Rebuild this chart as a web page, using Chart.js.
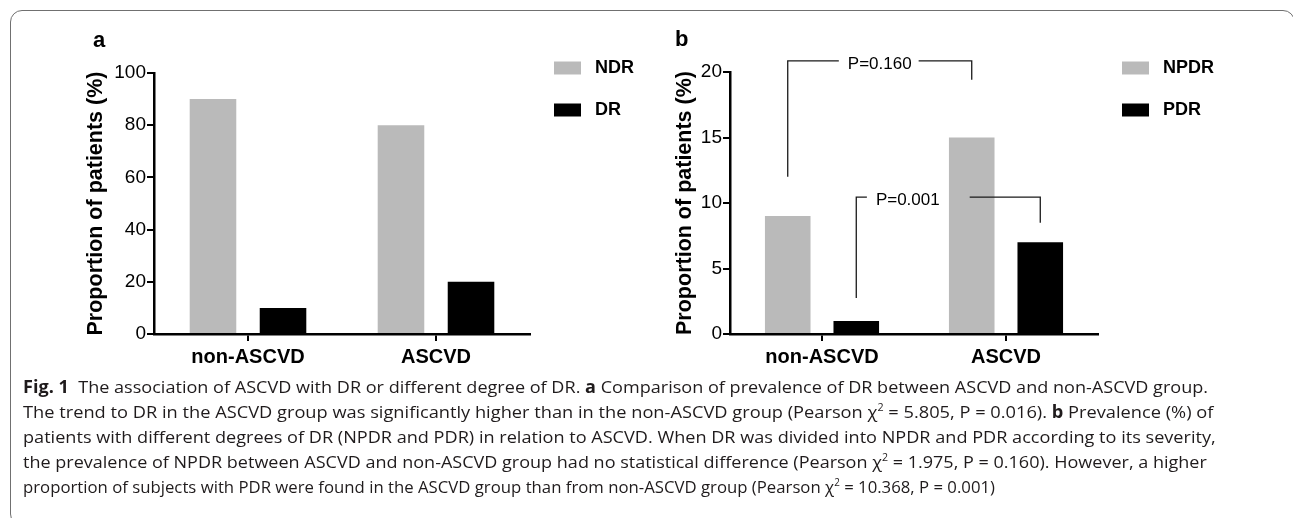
<!DOCTYPE html>
<html>
<head>
<meta charset="utf-8">
<script src="https://cdn.jsdelivr.net/npm/chart.js@4.4.0/dist/chart.umd.min.js"></script>
<style>
  html, body { margin: 0; padding: 0; background: #fff; overflow: hidden; }
  body { width: 1293px; height: 518px; position: relative; }
  .frame {
    position: absolute; left: 10px; top: 10px; width: 1283px; height: 514px;
    border: 1px solid #707070; border-radius: 12px;
  }
  canvas { position: absolute; top: 0; }
  #chartA { left: 0; }
  #chartB { left: 640px; }
  .caption {
    position: absolute; left: 23px; top: 374px;
    font-family: "Open Sans", "Noto Sans", sans-serif; font-size: 17px; line-height: 25px; color: #1f1b1c;
  }
  .caption .line { white-space: nowrap; width: max-content; transform-origin: 0 50%; }
  .caption sup { font-size: 10px; line-height: 0; }
</style>
</head>
<body>
<div class="frame"></div>
<canvas id="chartA" width="660" height="385"></canvas>
<canvas id="chartB" width="653" height="385"></canvas>
<div class="caption">
  <div class="line"><b>Fig. 1</b>&nbsp; The association of ASCVD with DR or different degree of DR. <b>a</b> Comparison of prevalence of DR between ASCVD and non-ASCVD group.</div>
  <div class="line">The trend to DR in the ASCVD group was significantly higher than in the non-ASCVD group (Pearson χ<sup>2</sup> = 5.805, P = 0.016). <b>b</b> Prevalence (%) of</div>
  <div class="line">patients with different degrees of DR (NPDR and PDR) in relation to ASCVD. When DR was divided into NPDR and PDR according to its severity,</div>
  <div class="line">the prevalence of NPDR between ASCVD and non-ASCVD group had no statistical difference (Pearson χ<sup>2</sup> = 1.975, P = 0.160). However, a higher</div>
  <div class="line">proportion of subjects with PDR were found in the ASCVD group than from non-ASCVD group (Pearson χ<sup>2</sup> = 10.368, P = 0.001)</div>
</div>
<script>
// Data
const categories = ['non-ASCVD', 'ASCVD'];
const ndrValues = [90, 80];
const drValues = [10, 20];
const npdrValues = [9, 15];
const pdrValues = [1, 7];
const yTicksA = [0, 20, 40, 60, 80, 100];
const yTicksB = [0, 5, 10, 15, 20];

// significance brackets on panel b
const pLabels = ['P=0.160', 'P=0.001'];
const pBracketSeries = [0, 1];
const pBracketTop = [20.85, 10.45];
const pBracketLeftEnd = [12, 2.75];
const pBracketRightEnd = [19.4, 8.5];

const bracketStyle = [
  { textAt: 0.5, gapLeft: 9, gapRight: 7 },
  { textAt: 0.28, gapLeft: 9, gapRight: 30 }
];
const captionRight = [1208, 1213, 1216, 1207, 995];

const GREY = '#bababa';
const BLACK = '#000000';
const FONT = '"Liberation Sans", Arial, sans-serif';
const LEGEND_PAD = 24;
const BOX_W = 27;
const LEGEND_FONT = 18;

Chart.defaults.font.family = FONT;
Chart.defaults.color = '#000';

// width Chart.js will give a right-hand legend, so the plot area ends where it should
function legendWidth(labels) {
  const ctx = document.createElement('canvas').getContext('2d');
  ctx.font = 'bold ' + LEGEND_FONT + 'px ' + FONT;
  const text = Math.max(...labels.map(t => ctx.measureText(' ' + t).width));
  return LEGEND_PAD + BOX_W + LEGEND_FONT / 2 + text + 10;
}

const bracketPlugin = {
  id: 'pBrackets',
  afterDraw(chart) {
    const { ctx, scales: { y } } = chart;
    ctx.save();
    ctx.strokeStyle = '#1a1a1a';
    ctx.lineWidth = 1.3;
    ctx.fillStyle = '#000';
    ctx.font = '17px ' + FONT;
    ctx.textAlign = 'center';
    ctx.textBaseline = 'middle';
    pLabels.forEach((label, i) => {
      const bars = chart.getDatasetMeta(pBracketSeries[i]).data;
      const x1 = bars[0].x;
      const x2 = bars[1].x;
      const yTop = y.getPixelForValue(pBracketTop[i]);
      const st = bracketStyle[i];
      const tx = x1 + (x2 - x1) * st.textAt;
      const half = ctx.measureText(label).width / 2;
      ctx.beginPath();
      ctx.moveTo(x1, y.getPixelForValue(pBracketLeftEnd[i]));
      ctx.lineTo(x1, yTop);
      ctx.lineTo(tx - half - st.gapLeft, yTop);
      ctx.moveTo(tx + half + st.gapRight, yTop);
      ctx.lineTo(x2, yTop);
      ctx.lineTo(x2, y.getPixelForValue(pBracketRightEnd[i]));
      ctx.stroke();
      ctx.fillText(label, tx, yTop + 3);
    });
    ctx.restore();
  }
};

function barChart(id, cfg) {
  const canvas = document.getElementById(id);
  const axisLine = { color: '#000', width: 2.5 };
  const tickMarks = { drawOnChartArea: false, tickLength: 7, lineWidth: 2, color: '#000' };
  const padding = {
    ...cfg.padding,
    right: canvas.width - cfg.plotRight - legendWidth(cfg.series.map(s => s.label))
  };
  return new Chart(canvas, {
    type: 'bar',
    data: {
      labels: categories,
      datasets: cfg.series.map(s => ({
        label: s.label,
        data: s.data,
        backgroundColor: s.color,
        borderWidth: 0,
        categoryPercentage: 0.745,
        barPercentage: 0.665
      }))
    },
    options: {
      responsive: false,
      animation: false,
      layout: { padding },
      plugins: {
        title: {
          display: true, text: cfg.panel, align: 'start', color: '#000',
          font: { size: 22, weight: 'bold' },
          padding: { top: 0, bottom: 18.6 }
        },
        legend: {
          position: 'right', align: 'start',
          title: { display: true, text: '', padding: 0, font: { size: cfg.legendTop, lineHeight: 1 } },
          labels: {
            boxWidth: BOX_W, boxHeight: 13, padding: LEGEND_PAD, color: '#000',
            font: { size: LEGEND_FONT, weight: 'bold' },
            generateLabels: chart => Chart.defaults.plugins.legend.labels.generateLabels(chart)
              .map(l => ({ ...l, text: ' ' + l.text }))
          }
        },
        tooltip: { enabled: false }
      },
      scales: {
        x: {
          grid: { ...tickMarks, offset: false },
          border: axisLine,
          ticks: { color: '#000', padding: 4, font: { size: 20, weight: 'bold' } },
          afterFit: s => { s.height = 40; }
        },
        y: {
          min: 0,
          max: cfg.ticks[cfg.ticks.length - 1],
          afterBuildTicks: s => { s.ticks = cfg.ticks.map(v => ({ value: v })); },
          afterFit: s => { s.width = cfg.axisWidth; },
          grid: tickMarks,
          border: axisLine,
          ticks: { color: '#000', padding: 1, font: { size: 19 } },
          title: {
            display: true, text: 'Proportion of patients (%)', color: '#000',
            font: { size: 21.5, weight: 'bold' },
            padding: { top: cfg.titleShift, bottom: 0 }
          }
        }
      }
    },
    plugins: cfg.plugins || []
  });
}

barChart('chartA', {
  panel: 'a',
  series: [
    { label: 'NDR', data: ndrValues, color: GREY },
    { label: 'DR', data: drValues, color: BLACK }
  ],
  ticks: yTicksA,
  padding: { top: 28, left: 93, bottom: 11 },
  plotRight: 530,
  axisWidth: 61,
  titleShift: -9.8,
  legendTop: 7
});

barChart('chartB', {
  panel: 'b',
  series: [
    { label: 'NPDR', data: npdrValues, color: GREY },
    { label: 'PDR', data: pdrValues, color: BLACK }
  ],
  ticks: yTicksB,
  padding: { top: 27, left: 35, bottom: 11 },
  plotRight: 458,
  axisWidth: 55,
  titleShift: -2.6,
  legendTop: 8,
  plugins: [bracketPlugin]
});

// squeeze each caption line to its width in the figure
document.querySelectorAll('.caption .line').forEach((line, i) => {
  const target = captionRight[i] - 23;
  line.style.transform = `scaleX(${target / line.offsetWidth})`;
});
</script>
</body>
</html>
